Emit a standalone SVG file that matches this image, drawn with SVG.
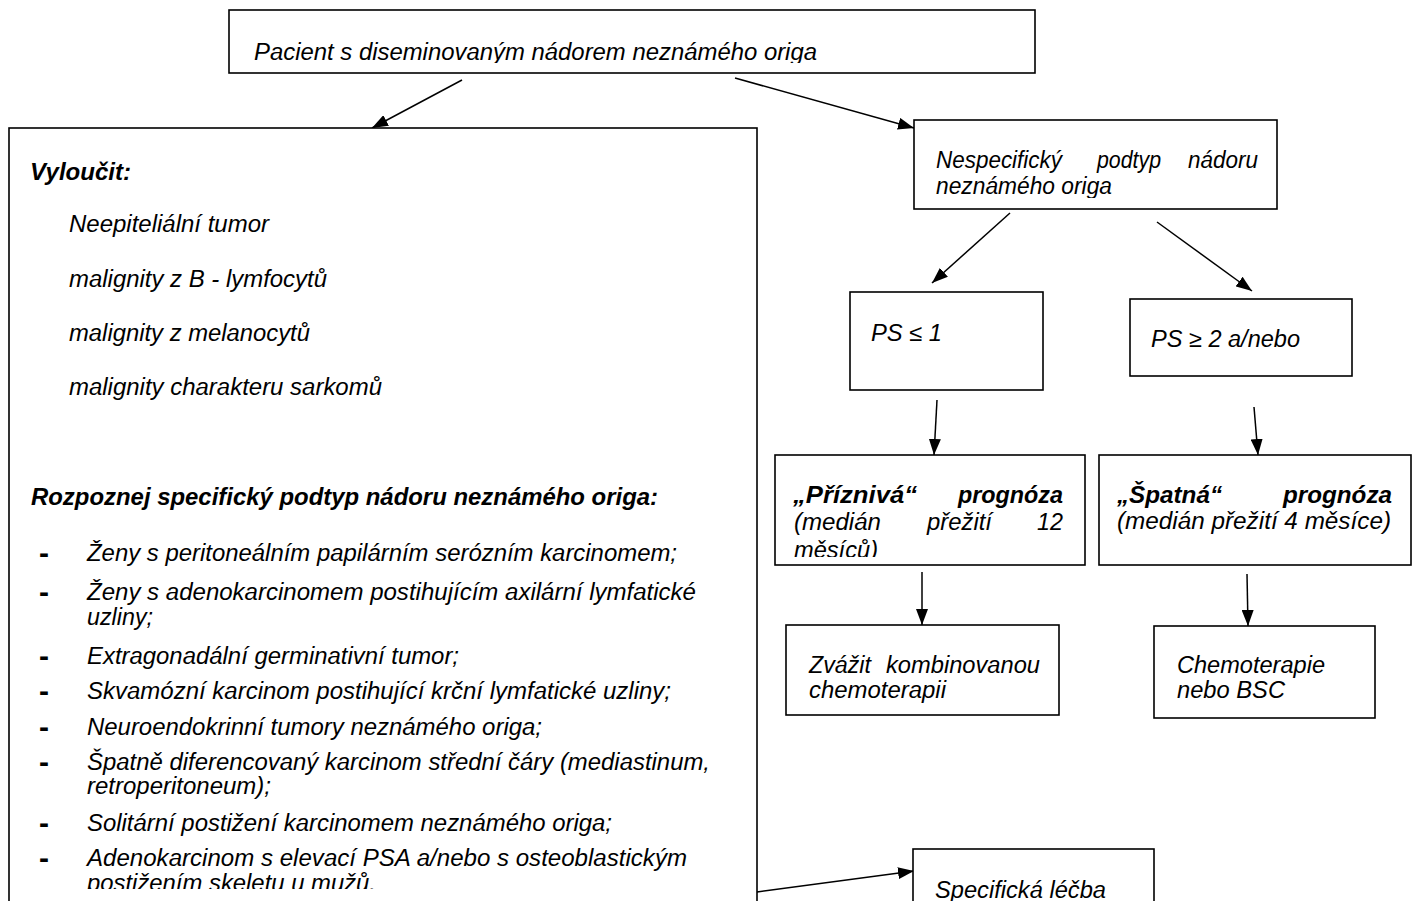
<svg xmlns="http://www.w3.org/2000/svg" width="1417" height="901" viewBox="0 0 1417 901">
<style>
.box{fill:#fff;stroke:#000;stroke-width:1.6}
.t{font-family:"Liberation Sans",Arial,sans-serif;font-style:italic;font-size:23.5px;fill:#000}
.b{font-weight:bold}
.d{font-family:"Liberation Sans",Arial,sans-serif;font-weight:bold;font-size:30px;fill:#000}
.c{stroke:#000;stroke-width:1.5;fill:none;marker-end:url(#ah)}
</style>
<defs>
<marker id="ah" markerUnits="userSpaceOnUse" markerWidth="16" markerHeight="12" refX="16" refY="6" orient="auto">
<path d="M0,0 L16,6 L0,12 z" fill="#000"/>
</marker>
<clipPath id="cTop"><rect x="229" y="10" width="806" height="53"/></clipPath>
<clipPath id="cNes"><rect x="914" y="120" width="363" height="78"/></clipPath>
<clipPath id="cPriz"><rect x="775" y="455" width="310" height="102"/></clipPath>
<clipPath id="cLeft"><rect x="9" y="128" width="748" height="761"/></clipPath>
</defs>
<rect width="1417" height="901" fill="#fff"/>

<g id="connectors">
<line class="c" x1="462" y1="80" x2="372" y2="128"/>
<line class="c" x1="735" y1="78" x2="914" y2="128"/>
<line class="c" x1="1010" y1="213" x2="932" y2="283"/>
<line class="c" x1="1157" y1="222" x2="1252" y2="291"/>
<line class="c" x1="937" y1="400" x2="934" y2="455"/>
<line class="c" x1="1254" y1="407" x2="1258" y2="455"/>
<line class="c" x1="922" y1="572" x2="922" y2="625"/>
<line class="c" x1="1247" y1="574" x2="1248" y2="626"/>
<line class="c" x1="757" y1="892" x2="914" y2="871"/>
</g>

<g id="n-top">
<rect class="box" x="229" y="10" width="806" height="63"/>
<text class="t" x="254" y="60" textLength="563" lengthAdjust="spacingAndGlyphs" clip-path="url(#cTop)">Pacient s diseminovaným nádorem neznámého origa</text>
</g>

<g id="n-left">
<rect class="box" x="9" y="128" width="748" height="800"/>
<text class="t b" x="30" y="180" textLength="101" lengthAdjust="spacingAndGlyphs">Vyloučit:</text>
<text class="t" x="69" y="232" textLength="200" lengthAdjust="spacingAndGlyphs">Neepiteliální tumor</text>
<text class="t" x="69" y="287" textLength="258" lengthAdjust="spacingAndGlyphs">malignity z B - lymfocytů</text>
<text class="t" x="69" y="341" textLength="241" lengthAdjust="spacingAndGlyphs">malignity z melanocytů</text>
<text class="t" x="69" y="395" textLength="313" lengthAdjust="spacingAndGlyphs">malignity charakteru sarkomů</text>
<text class="t b" x="31" y="505" textLength="627" lengthAdjust="spacingAndGlyphs">Rozpoznej specifický podtyp nádoru neznámého origa:</text>
<text class="d" x="39" y="563">-</text>
<text class="t" x="87" y="561" textLength="590" lengthAdjust="spacingAndGlyphs">Ženy s peritoneálním papilárním serózním karcinomem;</text>
<text class="d" x="39" y="602">-</text>
<text class="t" x="87" y="600" textLength="609" lengthAdjust="spacingAndGlyphs">Ženy s adenokarcinomem postihujícím axilární lymfatické</text>
<text class="t" x="87" y="625" textLength="66" lengthAdjust="spacingAndGlyphs">uzliny;</text>
<text class="d" x="39" y="666">-</text>
<text class="t" x="87" y="664" textLength="372" lengthAdjust="spacingAndGlyphs">Extragonadální germinativní tumor;</text>
<text class="d" x="39" y="701">-</text>
<text class="t" x="87" y="699" textLength="584" lengthAdjust="spacingAndGlyphs">Skvamózní karcinom postihující krční lymfatické uzliny;</text>
<text class="d" x="39" y="737">-</text>
<text class="t" x="87" y="735" textLength="455" lengthAdjust="spacingAndGlyphs">Neuroendokrinní tumory neznámého origa;</text>
<text class="d" x="39" y="772">-</text>
<text class="t" x="87" y="770" textLength="623" lengthAdjust="spacingAndGlyphs">Špatně diferencovaný karcinom střední čáry (mediastinum,</text>
<text class="t" x="87" y="794" textLength="184" lengthAdjust="spacingAndGlyphs">retroperitoneum);</text>
<text class="d" x="39" y="833">-</text>
<text class="t" x="87" y="831" textLength="525" lengthAdjust="spacingAndGlyphs">Solitární postižení karcinomem neznámého origa;</text>
<text class="d" x="39" y="868">-</text>
<text class="t" x="87" y="866" textLength="600" lengthAdjust="spacingAndGlyphs">Adenokarcinom s elevací PSA a/nebo s osteoblastickým</text>
<text class="t" x="87" y="891" textLength="289" lengthAdjust="spacingAndGlyphs" clip-path="url(#cLeft)">postižením skeletu u mužů.</text>
</g>

<g id="n-nespec">
<rect class="box" x="914" y="120" width="363" height="89"/>
<text class="t" x="936" y="168" textLength="126" lengthAdjust="spacingAndGlyphs">Nespecifický</text>
<text class="t" x="1097" y="168" textLength="64" lengthAdjust="spacingAndGlyphs">podtyp</text>
<text class="t" x="1188" y="168" textLength="70" lengthAdjust="spacingAndGlyphs">nádoru</text>
<text class="t" x="936" y="194" textLength="176" lengthAdjust="spacingAndGlyphs" clip-path="url(#cNes)">neznámého origa</text>
</g>

<g id="n-ps1">
<rect class="box" x="850" y="292" width="193" height="98"/>
<text class="t" x="871" y="341" textLength="71" lengthAdjust="spacingAndGlyphs">PS ≤ 1</text>
</g>

<g id="n-ps2">
<rect class="box" x="1130" y="299" width="222" height="77"/>
<text class="t" x="1151" y="347" textLength="149" lengthAdjust="spacingAndGlyphs">PS ≥ 2 a/nebo</text>
</g>

<g id="n-priz">
<rect class="box" x="775" y="455" width="310" height="110"/>
<text class="t b" x="793" y="503" textLength="124" lengthAdjust="spacingAndGlyphs">„Příznivá“</text>
<text class="t b" x="958" y="503" textLength="105" lengthAdjust="spacingAndGlyphs">prognóza</text>
<text class="t" x="794" y="530" textLength="87" lengthAdjust="spacingAndGlyphs">(medián</text>
<text class="t" x="927" y="530" textLength="65" lengthAdjust="spacingAndGlyphs">přežití</text>
<text class="t" x="1037" y="530" textLength="26" lengthAdjust="spacingAndGlyphs">12</text>
<text class="t" x="794" y="558" textLength="84" lengthAdjust="spacingAndGlyphs" clip-path="url(#cPriz)">měsíců)</text>
</g>

<g id="n-spat">
<rect class="box" x="1099" y="455" width="312" height="110"/>
<text class="t b" x="1117" y="503" textLength="105" lengthAdjust="spacingAndGlyphs">„Špatná“</text>
<text class="t b" x="1283" y="503" textLength="109" lengthAdjust="spacingAndGlyphs">prognóza</text>
<text class="t" x="1117" y="529" textLength="274" lengthAdjust="spacingAndGlyphs">(medián přežití 4 měsíce)</text>
</g>

<g id="n-zvaz">
<rect class="box" x="786" y="625" width="273" height="90"/>
<text class="t" x="809" y="673" textLength="62" lengthAdjust="spacingAndGlyphs">Zvážit</text>
<text class="t" x="886" y="673" textLength="154" lengthAdjust="spacingAndGlyphs">kombinovanou</text>
<text class="t" x="809" y="698" textLength="137" lengthAdjust="spacingAndGlyphs">chemoterapii</text>
</g>

<g id="n-chemo">
<rect class="box" x="1154" y="626" width="221" height="92"/>
<text class="t" x="1177" y="673" textLength="148" lengthAdjust="spacingAndGlyphs">Chemoterapie</text>
<text class="t" x="1177" y="698" textLength="108" lengthAdjust="spacingAndGlyphs">nebo BSC</text>
</g>

<g id="n-spec">
<rect class="box" x="913" y="849" width="241" height="70"/>
<text class="t" x="935" y="898" textLength="171" lengthAdjust="spacingAndGlyphs">Specifická léčba</text>
</g>
</svg>
